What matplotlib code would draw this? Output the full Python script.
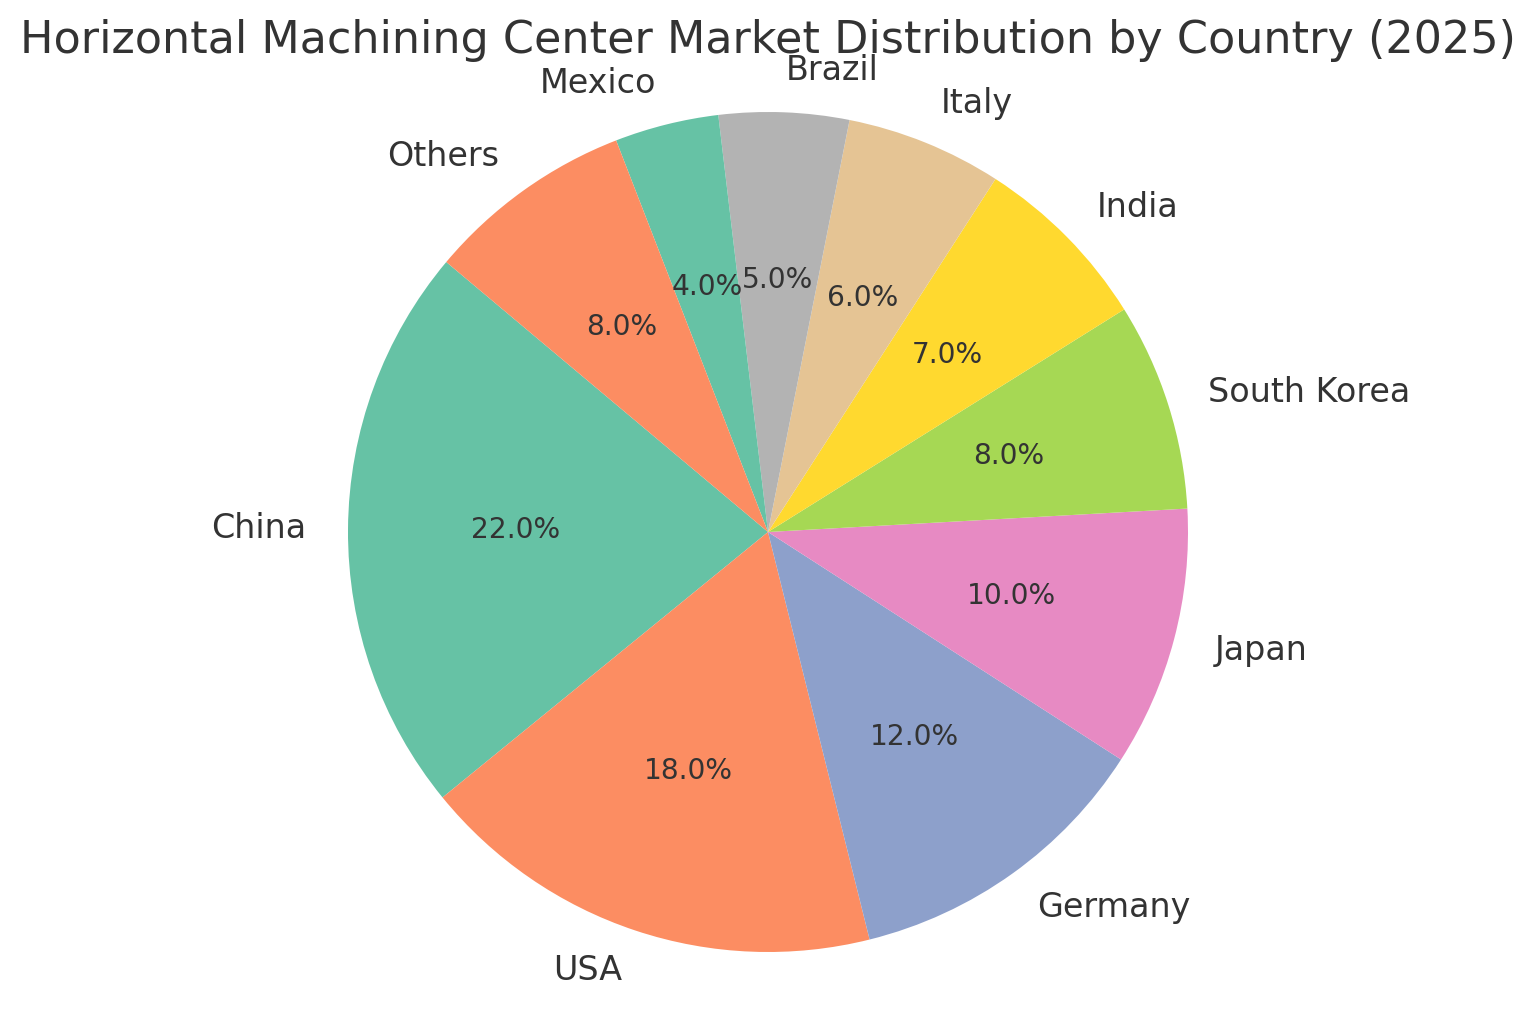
import matplotlib
matplotlib.use("Agg")
import matplotlib.pyplot as plt
import seaborn as sns

# Data
countries = ["China", "USA", "Germany", "Japan", "South Korea",
             "India", "Italy", "Brazil", "Mexico", "Others"]
shares = [22, 18, 12, 10, 8, 7, 6, 5, 4, 8]

colors = sns.color_palette("Set2", 8)
colors = [colors[i % 8] for i in range(len(countries))]

plt.rcParams["font.family"] = ["DejaVu Sans"]
plt.rcParams["text.color"] = "#333333"

fig = plt.figure(figsize=(7.675, 5.07), dpi=200)
W, H = 1535, 1014
cx, cy, r = 768, 532, 420
ax = fig.add_axes([(cx - r) / W, (H - cy - r) / H, 2 * r / W, 2 * r / H])

wedges, texts, autotexts = ax.pie(
    shares, labels=countries, colors=colors, autopct="%1.1f%%",
    startangle=140, labeldistance=1.1, pctdistance=0.6,
    textprops={"fontsize": 12, "color": "#333333"})
for t in autotexts:
    t.set_fontsize(10.15)
    t.set_color("#333333")

ax.set_xlim(-1, 1)
ax.set_ylim(-1, 1)
ax.set_aspect("auto")
ax.axis("off")

fig.text(0.5, 1 - 40 / H, "Horizontal Machining Center Market Distribution by Country (2025)",
         ha="center", va="center", fontsize=16, color="#333333")

fig.savefig("out.png", dpi=200)
